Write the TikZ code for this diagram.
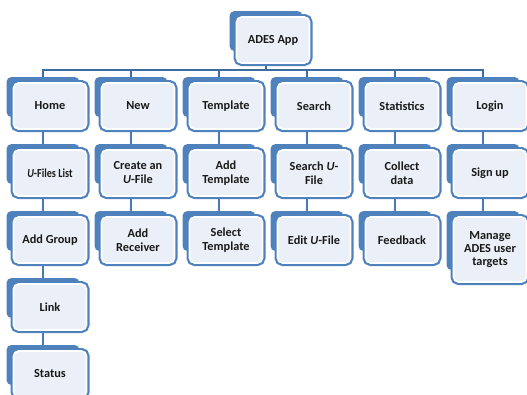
\documentclass[tikz,border=0pt]{standalone}
\usepackage{graphicx}
\usepackage{fontspec}
\setmainfont{Carlito}
\usetikzlibrary{backgrounds}
\definecolor{boxblue}{HTML}{4F81BD}
\definecolor{linkblue}{HTML}{4A7BB7}
\definecolor{busblue}{HTML}{3D6BA3}
\definecolor{paneltint}{HTML}{EBF0F8}
\tikzset{
  panel/.style={rectangle, rounded corners=5pt, minimum width=73pt, minimum height=46pt,
    fill=paneltint, draw=white, line width=1.6pt,
    preaction={draw=boxblue, line width=6pt, rounded corners=5pt},
    font=\bfseries\fontsize{12.3}{14}\selectfont, text=black!90, align=center, inner sep=1pt},
  tallpanel/.style={panel, minimum height=65pt, font=\bfseries\fontsize{12.3}{13.4}\selectfont},
  shadowbox/.style={rectangle, rounded corners=5pt, fill=boxblue, draw=none,
    minimum width=73pt, minimum height=40pt, inner sep=0pt},
  tallshadow/.style={shadowbox, minimum height=59pt},
  link/.style={draw=linkblue, line width=2.8pt},
  busline/.style={draw=busblue, line width=2.3pt},
}
% panel with its offset backing shape: name, x, y of panel centre, text
\newcommand{\chartbox}[4]{%
  \node[shadowbox] (#1-b) at (#2-7,#3-9) {};
  \node[panel] (#1) at (#2,#3) {#4};}
\newcommand{\chartboxtall}[4]{%
  \node[tallshadow] (#1-b) at (#2-7,#3-9) {};
  \node[tallpanel] (#1) at (#2,#3) {#4};}
\begin{document}
\begin{tikzpicture}[x=1pt,y=-1pt]
\useasboundingbox (0,0) rectangle (527,394);

\chartbox{ades}{273}{40}{ADES App}

% first level
\chartbox{home}{50}{106}{Home}
\chartbox{new}{138}{106}{New}
\chartbox{tmpl}{226}{106}{Template}
\chartbox{search}{314}{106}{Search}
\chartbox{stats}{402}{106}{Statistics}
\chartbox{login}{490}{106}{Login}

% second level
\chartbox{ufiles}{50}{173}{\scalebox{0.83}[1]{\textit{U}-Files List}}
\chartbox{create}{138}{173}{Create an\\\textit{U}-File}
\chartbox{addtmpl}{226}{173}{Add\\Template}
\chartbox{searchu}{314}{173}{Search \textit{U}-\\File}
\chartbox{collect}{402}{173}{Collect\\data}
\chartbox{signup}{490}{173}{Sign up}

% third level
\chartbox{group}{50}{240}{Add Group}
\chartbox{receiver}{138}{240}{Add\\Receiver}
\chartbox{select}{226}{240}{Select\\Template}
\chartbox{edit}{314}{240}{Edit \textit{U}-File}
\chartbox{feedback}{402}{240}{Feedback}
\chartboxtall{manage}{490}{249.5}{Manage\\ADES user\\targets}

% further levels under Home
\chartbox{linkbox}{50}{307}{Link}
\chartbox{status}{50}{374}{Status}

\begin{scope}[on background layer]
  \coordinate (bus) at (ades-b.center |- 0,70);
  \draw[busline] (ades-b.center) -- (bus);
  \foreach \n in {home,new,tmpl,search,stats,login}
    \draw[busline] (\n-b.north) |- (bus);
  \foreach \a/\b in {home/ufiles,ufiles/group,group/linkbox,linkbox/status,
                     new/create,create/receiver,tmpl/addtmpl,addtmpl/select,
                     search/searchu,searchu/edit,stats/collect,collect/feedback,
                     login/signup,signup/manage}
    \draw[link] (\a-b.center) -- (\b-b.center);
\end{scope}
\end{tikzpicture}
\end{document}
